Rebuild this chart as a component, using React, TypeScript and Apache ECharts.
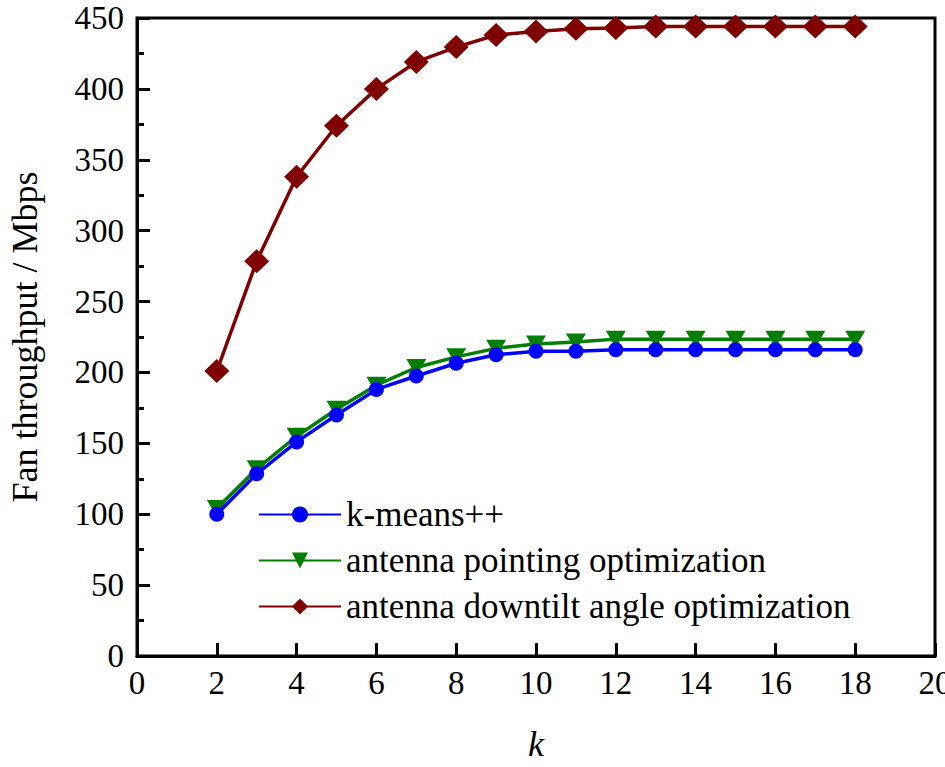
import React, { useEffect, useRef } from "react";
import * as echarts from "echarts";

const kValues = [2, 3, 4, 5, 6, 7, 8, 9, 10, 11, 12, 13, 14, 15, 16, 17, 18];
const kmeans = [100, 128.5, 151, 170, 188, 197.5, 206.5, 212.5, 215, 215, 216, 216, 216, 216, 216, 216, 216];
const pointing = [104, 132, 155, 174, 191, 203.5, 211, 217, 220, 221.5, 223.5, 223.5, 223.5, 223.5, 223.5, 223.5, 223.5];
const downtilt = [201, 278.5, 338, 374, 400, 419, 429.5, 438, 440.5, 442.5, 443, 444, 444, 444, 444, 444, 444];
const seriesNames = ["k-means++", "antenna pointing optimization", "antenna downtilt angle optimization"];

const FONT = "Liberation Serif";

export default function App() {
  const ref = useRef<HTMLDivElement>(null);
  useEffect(() => {
    if (!ref.current) return;
    const el = ref.current;
    const chart = echarts.init(el, undefined, { renderer: "svg" });
    const pairs = (ys: number[]) => kValues.map((k, i) => [k, ys[i]]);
    chart.setOption({
      animation: false,
      grid: {
        left: 137,
        right: 10,
        top: 18,
        bottom: 111,
        show: true,
        borderColor: "#000",
        borderWidth: 3,
        outerBoundsMode: "none",
      },
      legend: {
        orient: "vertical",
        left: 253,
        top: 492,
        itemWidth: 82,
        itemHeight: 20,
        itemGap: 11,
        textStyle: { fontFamily: FONT, fontSize: 35, color: "#000" },
        data: seriesNames,
      },
      xAxis: {
        type: "value",
        min: 0,
        max: 20,
        interval: 2,
        name: "k",
        nameLocation: "middle",
        nameGap: 70,
        nameTextStyle: { fontFamily: FONT, fontSize: 36, fontStyle: "italic", color: "#000" },
        axisLine: { show: true, lineStyle: { color: "#000", width: 3 } },
        axisTick: { show: true, inside: true, length: 13, lineStyle: { color: "#000", width: 3 } },
        axisLabel: { fontFamily: FONT, fontSize: 33, color: "#000", margin: 10 },
        splitLine: { show: false },
      },
      yAxis: {
        type: "value",
        min: 0,
        max: 450,
        interval: 50,
        name: "Fan throughput / Mbps",
        nameLocation: "middle",
        nameGap: 94,
        nameTextStyle: { fontFamily: FONT, fontSize: 36, color: "#000" },
        axisLine: { show: true, lineStyle: { color: "#000", width: 3 } },
        axisTick: { show: true, inside: true, length: 13, lineStyle: { color: "#000", width: 3 } },
        minorTick: { show: true, splitNumber: 2, length: 7, lineStyle: { color: "#000", width: 3 } },
        axisLabel: { fontFamily: FONT, fontSize: 33, color: "#000", margin: 13 },
        splitLine: { show: false },
      },
      series: [
        {
          name: seriesNames[0],
          type: "line",
          data: pairs(kmeans),
          symbol: "circle",
          symbolSize: 15,
          itemStyle: { color: "#0000FF" },
          lineStyle: { color: "#0000FF", width: 3.5 },
          z: 3,
        },
        {
          name: seriesNames[1],
          type: "line",
          data: pairs(pointing),
          symbol: "triangle",
          symbolRotate: 180,
          symbolSize: [20, 17],
          itemStyle: { color: "#007F00" },
          lineStyle: { color: "#007F00", width: 3.5 },
          z: 2,
        },
        {
          name: seriesNames[2],
          type: "line",
          data: pairs(downtilt),
          symbol: "diamond",
          symbolSize: [25, 24],
          itemStyle: { color: "#800000" },
          lineStyle: { color: "#800000", width: 3.5 },
          z: 2,
        },
      ],
    });

    // Write the font as plain SVG presentation attributes as well,
    // so the serif face survives however the SVG is drawn.
    const fixFonts = () => {
      el.querySelectorAll("text").forEach((t) => {
        const st = (t as SVGTextElement).style;
        const size = st.fontSize || t.getAttribute("font-size") || "";
        const fstyle = st.fontStyle || "";
        const weight = st.fontWeight || "";
        st.removeProperty("font");
        st.removeProperty("font-family");
        t.setAttribute("font-family", "Liberation Serif, Times New Roman, serif");
        if (size) t.setAttribute("font-size", size);
        if (fstyle && fstyle !== "normal") t.setAttribute("font-style", fstyle);
        if (weight && weight !== "normal" && weight !== "400") t.setAttribute("font-weight", weight);
      });
    };
    fixFonts();
    chart.on("finished", fixFonts);
    const timer = window.setTimeout(fixFonts, 0);
    return () => {
      window.clearTimeout(timer);
      chart.dispose();
    };
  }, []);
  return (
    <div style={{ position: "absolute", left: 0, top: 0, width: 945, height: 767, background: "#fff" }}>
      <div ref={ref} style={{ width: 945, height: 767 }} />
    </div>
  );
}
